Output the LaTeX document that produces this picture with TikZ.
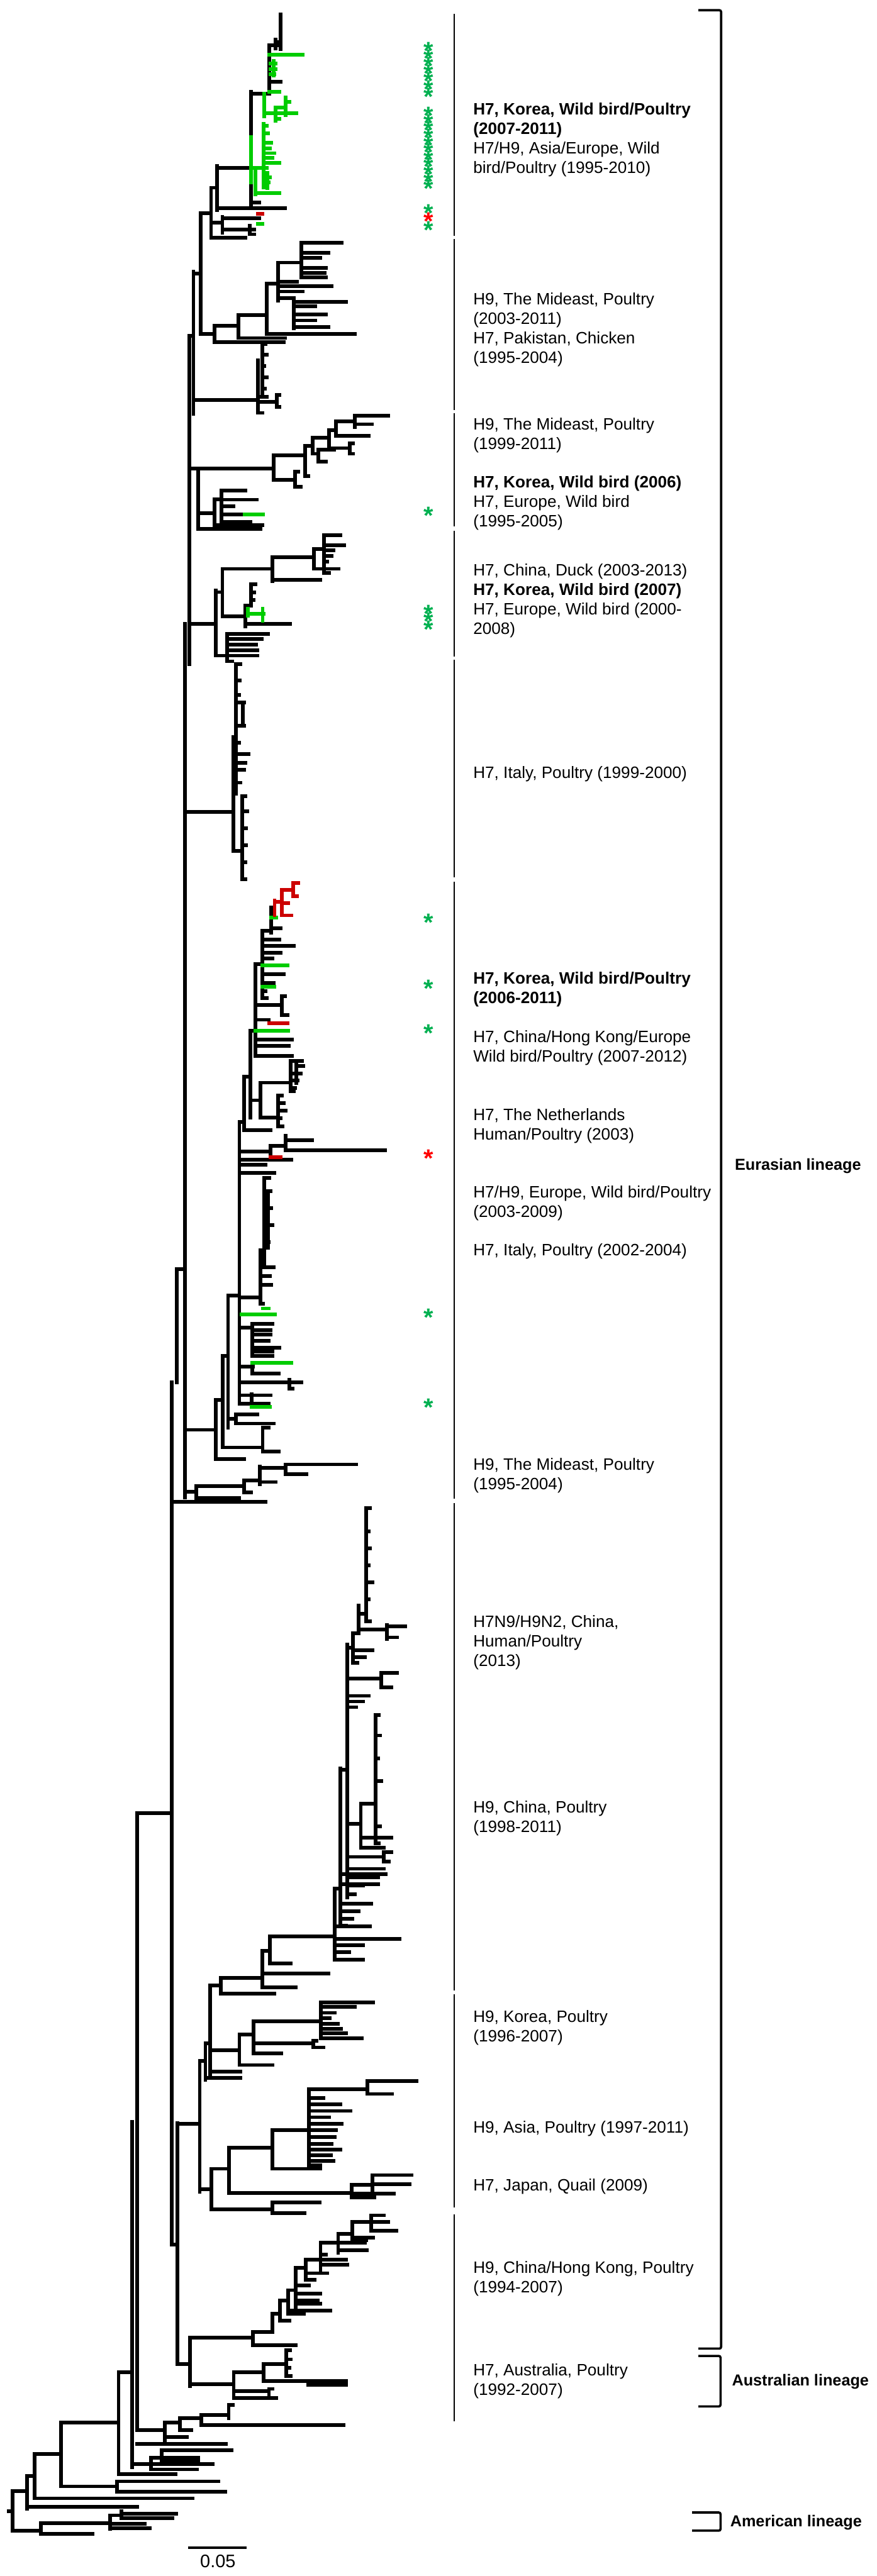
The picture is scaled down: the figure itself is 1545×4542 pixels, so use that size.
\documentclass[tikz,border=0pt]{standalone}
\usepackage{fontspec}
\setmainfont{Liberation Sans}
\definecolor{brgreen}{RGB}{0,204,0}
\definecolor{brred}{RGB}{204,0,0}
\definecolor{astgreen}{RGB}{0,176,80}
\definecolor{astred}{RGB}{255,0,0}
\begin{document}
\begin{tikzpicture}[x=1pt, y=-1pt, line cap=rect,
  br/.style={line width=6.5pt, black},
  brG/.style={line width=6.5pt, brgreen},
  brR/.style={line width=6.5pt, brred},
  sep/.style={line width=2.5pt},
  brk/.style={line width=4pt, rounded corners=3pt, line cap=butt},
  lbl/.style={font=\fontsize{29}{34.5}\selectfont, anchor=north west, inner sep=0pt, align=left},
  lin/.style={font=\fontsize{28}{34}\selectfont\bfseries, anchor=west, inner sep=0pt},
  ast/.style={font=\fontsize{44}{44}\selectfont\bfseries, text height=31.7pt, text depth=-17.2pt, inner sep=0pt, text=astgreen},
  astR/.style={ast, text=astred},
  stack/.style={font=\fontsize{44}{44}\selectfont\bfseries, anchor=north, inner sep=0pt, text=astgreen}]
\useasboundingbox (0,0) rectangle (1545,4542);
% top clade: H7 Korea 2007-2011
\foreach \x/\a/\b in {495/25/87, 486/70/86, 475/85/163, 442/162/362, 383/293/370}
  \draw[br] (\x,\a) -- (\x,\b);
\foreach \y/\a/\b in {74/486/495, 80/475/495, 144/475/495, 165/442/475, 296/383/442, 357/442/457, 367/383/502}
  \draw[br] (\a,\y) -- (\b,\y);
\foreach \x/\a/\b in {442/242/322, 466/165/205, 486/190/213, 503/172/203, 465/218/330, 450/296/343, 471/305/332, 482/107/133}
  \draw[brG] (\x,\a) -- (\x,\b);
\foreach \y/\a/\b in {96/475/533, 112/477/486, 122/477/486, 131/477/484, 162/475/492, 180/503/510, 190/486/503, 200/466/522, 210/486/492, 222/465/470, 235/465/472, 252/465/478, 262/465/476, 270/465/483, 278/465/480, 287/465/492, 296/442/470, 313/471/476, 322/471/474, 340/450/492}
  \draw[brG] (\a,\y) -- (\b,\y);
% small clade below it
\foreach \x/\a/\b in {372/331/419, 392/382/410, 440/398/413, 354/376/589}
  \draw[br] (\x,\a) -- (\x,\b);
\foreach \y/\a/\b in {331/372/383, 393/372/392, 385/392/457, 405/392/448, 413/440/448, 419/372/433, 376/354/372, 482/341/354}
  \draw[br] (\a,\y) -- (\b,\y);
\draw[brR] (455,377) -- (462,377);
\draw[brG] (455,395) -- (463,395);
% H9 Mideast 2003-2011
\foreach \x/\a/\b in {378/574/603, 420/556/596, 470/500/589, 490/463/530, 531/428/489, 518/526/579}
  \draw[br] (\x,\a) -- (\x,\b);
\foreach \y/\a/\b in {589/354/378, 574/378/420, 603/378/500, 556/420/470, 596/420/502, 500/470/490, 589/470/625, 463/490/531, 497/490/523, 505/490/584, 514/490/533, 526/490/518, 428/531/602, 446/531/579, 455/531/564, 472/531/574, 481/531/572, 489/531/574, 532/518/610, 540/518/556, 554/518/574, 565/518/556, 577/518/579}
  \draw[br] (\a,\y) -- (\b,\y);
% H7 Pakistan column
\foreach \x/\a/\b in {455/635/728, 462/607/700, 488/696/717}
  \draw[br] (\x,\a) -- (\x,\b);
\foreach \y/\a/\b in {705/341/455, 607/462/468, 625/462/470, 645/462/466, 665/462/470, 685/462/467, 700/455/470, 709/455/488, 696/488/492, 717/488/492, 728/455/462}
  \draw[br] (\a,\y) -- (\b,\y);
% backbone
\foreach \x/\a/\b in {341/479/730, 334/592/1171, 326/1100/2640, 312/2238/2437, 303/2437/3958, 313/3744/4168, 242/3197/4285, 233/3741/4350}
  \draw[br] (\x,\a) -- (\x,\b);
\foreach \y/\a/\b in {592/334/341, 2238/312/326, 3197/242/303, 3958/303/313}
  \draw[br] (\a,\y) -- (\b,\y);
% H9 Mideast 1999-2011
\foreach \x/\a/\b in {482/803/846, 520/832/858, 538/786/839, 551/772/800, 561/793/814, 580/758/790, 617/782/800, 592/743/768, 625/733/753}
  \draw[br] (\x,\a) -- (\x,\b);
\foreach \y/\a/\b in {826/334/482, 803/482/538, 846/482/520, 832/520/526, 858/520/530, 786/538/551, 839/538/543, 772/551/580, 800/551/561, 793/561/589, 814/561/575, 758/580/592, 790/580/617, 782/617/622, 800/617/622, 743/592/625, 768/592/650, 733/625/684, 748/625/655}
  \draw[br] (\a,\y) -- (\b,\y);
% H7 Korea 2006
\foreach \x/\a/\b in {349/826/933, 378/880/926, 390/865/920}
  \draw[br] (\x,\a) -- (\x,\b);
\foreach \y/\a/\b in {905/349/378, 933/349/459, 880/378/390, 926/378/463, 865/390/433, 881/390/453, 893/390/412, 920/390/441, 907/390/431}
  \draw[br] (\a,\y) -- (\b,\y);
\draw[brG] (431,907) -- (464,907);
% H7 China duck, Korea 2007
\foreach \x/\a/\b in {380/1041/1156, 392/1003/1087, 480/982/1025, 553/968/1003, 571/944/1010, 432/1068/1104, 442/1030/1068, 400/1118/1166}
  \draw[br] (\x,\a) -- (\x,\b);
\foreach \y/\a/\b in {1100/334/380, 1044/380/392, 1003/392/480, 982/480/553, 1022/480/565, 968/553/571, 944/571/600, 961/571/607, 970/571/588, 980/571/585, 990/571/577, 1003/553/597, 1010/571/580, 1087/392/432, 1100/432/511, 1030/442/450, 1045/442/448, 1058/442/447, 1068/432/442, 1156/380/400, 1118/400/473, 1127/400/461, 1137/400/451, 1147/400/454, 1156/400/454, 1166/400/409}
  \draw[br] (\a,\y) -- (\b,\y);
\foreach \x/\a/\b in {437/1073/1086, 463/1073/1095}
  \draw[brG] (\x,\a) -- (\x,\b);
\draw[brG] (437,1082) -- (465,1082);
% H7 Italy 1999-2000
\foreach \x/\a/\b in {411/1300/1500, 416/1171/1400, 428/1239/1280, 427/1404/1550}
  \draw[br] (\x,\a) -- (\x,\b);
\foreach \y/\a/\b in {1432/326/411, 1300/411/416, 1500/411/427, 1171/416/424, 1200/416/423, 1225/416/422, 1239/416/430, 1280/416/430, 1310/416/422, 1330/416/438, 1345/416/432, 1357/416/430, 1380/416/424, 1404/427/432, 1430/427/436, 1460/427/434, 1490/427/434, 1520/427/432, 1550/427/432}
  \draw[br] (\a,\y) -- (\b,\y);
% H7 Korea 2006-2011 and relatives
\foreach \x/\a/\b in {380/2468/2573, 393/2391/2552, 463/2517/2559, 416/2494/2510, 402/2284/2517, 422/1978/2475, 430/1898/1986, 441/1817/1970, 450/1700/1862, 497/1756/1790, 462/1641/1760, 478/1600/1645, 459/1909/1970, 512/1871/1924, 522/1875/1910, 490/1932/1986}
  \draw[br] (\x,\a) -- (\x,\b);
\foreach \y/\a/\b in {2521/326/380, 2468/380/393, 2573/380/430, 2391/393/402, 2552/393/463, 2517/463/474, 2559/463/491, 2502/402/416, 2494/416/454, 2510/416/482, 2284/402/422, 1978/422/430, 1993/430/477, 1898/430/441, 1940/441/459, 1909/459/512, 1871/512/532, 1880/522/535, 1893/512/530, 1905/512/525, 1918/512/520, 1924/512/518, 1970/459/490, 1932/490/497, 1945/490/500, 1958/490/503, 1972/490/495, 1986/490/498, 1817/441/450, 1833/450/515, 1844/450/509, 1862/450/515, 1772/450/497, 1756/497/502, 1790/497/507, 1798/450/474, 1700/450/462, 1657/462/492, 1668/462/518, 1680/462/495, 1690/462/480, 1718/462/500, 1733/462/482, 1748/462/468, 1760/462/470, 1641/462/478, 1637/478/495, 1607/478/484}
  \draw[br] (\a,\y) -- (\b,\y);
\foreach \y/\a/\b in {1804/474/507}
  \draw[brR] (\a,\y) -- (\b,\y);
\foreach \y/\a/\b in {1817/450/508, 1702/462/507, 1740/462/484, 1618/478/487}
  \draw[brG] (\a,\y) -- (\b,\y);
\foreach \x/\a/\b in {484/1588/1614, 497/1569/1614, 517/1557/1580}
  \draw[brR] (\x,\a) -- (\x,\b);
\foreach \y/\a/\b in {1590/484/497, 1569/497/517, 1557/517/526, 1580/517/524, 1592/497/508, 1614/497/513}
  \draw[brR] (\a,\y) -- (\b,\y);
% H7 Netherlands, Europe
\foreach \x/\a/\b in {477/2020/2040, 503/2002/2028}
  \draw[br] (\x,\a) -- (\x,\b);
\foreach \y/\a/\b in {2030/422/477, 2020/477/503, 2010/503/550, 2028/503/679, 2045/422/514, 2054/422/468, 2068/422/484}
  \draw[br] (\a,\y) -- (\b,\y);
\draw[brR] (477,2040) -- (495,2040);
% H7 Italy 2002-2004
\foreach \x/\a/\b in {459/2204/2299, 466/2077/2230, 472/2100/2200, 445/2334/2391, 445/2403/2422, 510/2433/2448, 444/2458/2475}
  \draw[br] (\x,\a) -- (\x,\b);
\foreach \y/\a/\b in {2288/422/459, 2077/466/475, 2100/466/477, 2130/472/478, 2160/472/480, 2190/466/474, 2204/459/466, 2234/459/482, 2250/459/476, 2265/459/478, 2299/459/464, 2334/445/480, 2341/422/445, 2345/445/477, 2353/445/477, 2364/445/474, 2376/445/492, 2383/445/480, 2391/445/480, 2410/422/446, 2422/445/491, 2437/422/531, 2448/510/516, 2460/422/477, 2475/422/474}
  \draw[br] (\a,\y) -- (\b,\y);
\foreach \y/\a/\b in {2318/426/485, 2307/463/474, 2403/445/514, 2481/444/476}
  \draw[brG] (\a,\y) -- (\b,\y);
% H9 Mideast 1995-2004
\foreach \x/\a/\b in {346/2620/2641, 430/2610/2631, 458/2586/2617, 503/2582/2599}
  \draw[br] (\x,\a) -- (\x,\b);
\foreach \y/\a/\b in {2630/326/346, 2620/346/430, 2610/430/458, 2588/458/503, 2582/503/628, 2599/503/540, 2613/458/486, 2631/430/443, 2641/346/421, 2648/303/468}
  \draw[br] (\a,\y) -- (\b,\y);
% H7N9/H9N2 and H9 China
\foreach \x/\a/\b in {370/3501/3657, 389/3487/3515, 462/3440/3504, 476/3414/3462, 590/3330/3455, 600/3118/3395, 612/2900/3345, 672/2950/2975, 636/3180/3258, 662/3024/3250, 676/3266/3282, 622/2880/2932, 632/2831/2880, 682/2865/2890, 645/2659/2859}
  \draw[br] (\x,\a) -- (\x,\b);
\foreach \y/\a/\b in {3501/370/389, 3487/389/462, 3515/389/484, 3440/462/476, 3480/462/579, 3504/462/521, 3414/476/590, 3462/476/512, 3396/590/652, 3419/590/704, 3430/590/640, 3442/590/616, 3455/590/640, 3330/590/600, 3304/600/680, 3322/600/666, 3357/600/654, 3370/600/632, 3383/600/621, 3395/600/610, 3120/600/612, 2905/612/622, 2960/612/672, 2950/672/700, 2975/672/690, 2990/612/650, 3000/612/640, 3010/612/628, 3216/612/636, 3180/636/662, 3240/636/690, 3258/636/677, 3274/612/676, 3266/676/690, 3282/676/685, 3295/612/677, 3310/612/666, 3325/612/640, 3340/612/625, 3024/662/668, 3060/662/670, 3100/662/666, 3140/662/672, 3220/662/670, 3250/662/668, 2910/622/657, 2922/622/643, 2932/622/630, 2880/622/632, 2873/632/682, 2868/682/714, 2887/682/700, 2845/632/645, 2659/645/652, 2700/645/650, 2730/645/652, 2760/645/650, 2790/645/656, 2820/645/650, 2859/645/652}
  \draw[br] (\a,\y) -- (\b,\y);
% H9 Korea
\foreach \x/\a/\b in {422/3587/3641, 447/3564/3620, 566/3531/3594, 552/3598/3610, 362/3603/3667, 352/3634/3864}
  \draw[br] (\x,\a) -- (\x,\b);
\foreach \y/\a/\b in {3615/370/422, 3587/422/447, 3564/447/566, 3531/566/658, 3538/566/626, 3549/566/590, 3558/566/581, 3568/566/596, 3577/566/601, 3585/566/610, 3594/566/638, 3603/447/552, 3598/552/558, 3610/552/570, 3620/447/496, 3641/422/480, 3653/370/424, 3603/362/370, 3664/362/424, 3634/352/362, 3745/313/352}
  \draw[br] (\a,\y) -- (\b,\y);
% H9 Asia, H7 Japan
\foreach \x/\a/\b in {373/3824/3895, 404/3787/3867, 480/3756/3824, 544/3684/3818, 648/3669/3692, 620/3852/3874, 656/3839/3868, 480/3883/3902}
  \draw[br] (\x,\a) -- (\x,\b);
\foreach \y/\a/\b in {3860/352/373, 3824/373/404, 3787/404/480, 3756/480/544, 3684/544/648, 3669/648/734, 3692/648/691, 3699/544/570, 3710/544/600, 3722/544/618, 3733/544/580, 3745/544/602, 3756/544/592, 3768/544/590, 3780/544/585, 3790/544/600, 3800/544/583, 3810/544/588, 3818/544/565, 3824/480/565, 3867/404/620, 3852/620/656, 3835/656/725, 3851/656/722, 3868/620/694, 3874/620/660, 3895/373/480, 3883/480/563, 3902/480/537}
  \draw[br] (\a,\y) -- (\b,\y);
% H9 China/Hong Kong
\foreach \x/\a/\b in {335/4122/4207, 446/4112/4135, 480/4080/4112, 493/4056/4092, 508/4038/4080, 521/3999/4068, 539/3984/4020, 565/3954/4002, 596/3939/3972, 621/3918/3950, 654/3906/3933}
  \draw[br] (\x,\a) -- (\x,\b);
\foreach \y/\a/\b in {4168/313/335, 4122/335/446, 4135/446/521, 4112/446/480, 4080/480/493, 4056/493/508, 4092/493/510, 4038/508/521, 4074/508/582, 4080/508/536, 3999/521/539, 4044/521/564, 4056/521/560, 4062/521/564, 4030/521/545, 3984/539/565, 4020/539/554, 4008/539/577, 3954/565/596, 3993/565/612, 3984/565/610, 3975/565/574, 3939/596/621, 3968/596/647, 3954/596/643, 3918/621/654, 3945/621/658, 3950/621/645, 3906/654/676, 3918/654/684, 3933/654/699}
  \draw[br] (\a,\y) -- (\b,\y);
% H7 Australia
\foreach \x/\a/\b in {412/4183/4228, 465/4168/4198, 505/4144/4189, 474/4212/4228}
  \draw[br] (\x,\a) -- (\x,\b);
\foreach \y/\a/\b in {4204/335/412, 4183/412/465, 4168/465/505, 4144/505/511, 4160/505/512, 4175/505/510, 4189/505/512, 4198/465/610, 4205/543/610, 4216/412/474, 4228/412/487, 4212/474/480}
  \draw[br] (\a,\y) -- (\b,\y);
% basal branches
\foreach \x/\a/\b in {291/4271/4309, 317/4264/4285, 355/4258/4276, 403/4240/4264, 266/4333/4354, 285/4320/4340, 209/4183/4362, 108/4271/4384, 206/4375/4393, 61/4327/4405, 48/4366/4423, 22/4392/4462, 72/4449/4468, 194/4435/4459, 214/4428/4440}
  \draw[br] (\x,\a) -- (\x,\b);
\foreach \y/\a/\b in {4285/242/291, 4271/291/317, 4264/317/355, 4258/355/403, 4240/403/410, 4276/355/605, 4285/317/337, 4297/291/329, 4309/242/398, 4345/233/266, 4333/266/349, 4338/285/349, 4320/285/408, 4345/266/375, 4354/266/347, 4183/209/233, 4362/209/309, 4271/108/209, 4384/108/206, 4375/206/385, 4393/206/397, 4327/61/108, 4405/61/339, 4366/48/61, 4420/48/242, 4392/22/48, 4462/22/72, 4428/15/22, 4449/72/194, 4468/72/163, 4435/194/214, 4432/214/311, 4440/214/304, 4450/194/255, 4458/194/264}
  \draw[br] (\a,\y) -- (\b,\y);
% scale bar
\draw[line width=4pt, line cap=butt] (332,4492) -- (435,4492);
\node[font=\fontsize{32}{32}\selectfont, inner sep=0pt] (scale) at (384,4516) {0.05};
% asterisks (stacks kept in one box each)
\node[stack] (astTop) at (755,73.8) {\vbox{\offinterlineskip\hbox{*}\kern-16.7pt\hbox{*}\kern-16.7pt\hbox{*}\kern-16.7pt\hbox{*}\kern-16.7pt\hbox{*}\kern-16.7pt\hbox{*}\kern-16.7pt\hbox{*}}};
\node[stack] (astMid) at (755,188.8) {\vbox{\offinterlineskip\hbox{*}\kern-17.4pt\hbox{*}\kern-17.4pt\hbox{*}\kern-17.4pt\hbox{*}\kern-17.4pt\hbox{*}\kern-17.4pt\hbox{*}\kern-17.4pt\hbox{*}\kern-17.4pt\hbox{*}\kern-17.4pt\hbox{*}\kern-17.4pt\hbox{*}\kern-17.4pt\hbox{*}}};
\node[stack] (astLow) at (755,360.8) {\vbox{\offinterlineskip\hbox{*}\kern-15.7pt\hbox{\textcolor{astred}{*}}\kern-15.7pt\hbox{*}}};
\node[stack] (astDuck) at (755,1066.8) {\vbox{\offinterlineskip\hbox{*}\kern-16.7pt\hbox{*}\kern-16.7pt\hbox{*}}};
\foreach \y [count=\i] in {908,1626,1742,1821,2322,2481}
  \node[ast] (astG\i) at (755,\y) {*};
\node[astR] (astNL) at (755,2042) {*};
% clade separators
\foreach \a/\b in {26/415, 423/722, 730/927, 937/1156, 1165/1546, 1556/2641, 2652/3508, 3517/3891, 3906/4268}
  \draw[sep] (801,\a) -- (801,\b);
% clade labels
\node[lbl] (koreaA) at (834,181) {\textbf{H7, Korea, Wild bird/Poultry}\\\textbf{(2007-2011)}\\H7/H9, Asia/Europe, Wild\\bird/Poultry (1995-2010)};
\node[lbl] (mideastA) at (834,516) {H9, The Mideast, Poultry\\(2003-2011)\\H7, Pakistan, Chicken\\(1995-2004)};
\node[lbl] (mideastB) at (834,737) {H9, The Mideast, Poultry\\(1999-2011)};
\node[lbl] (koreaB) at (834,839) {\textbf{H7, Korea, Wild bird (2006)}\\H7, Europe, Wild bird\\(1995-2005)};
\node[lbl] (koreaC) at (834,994) {H7, China, Duck (2003-2013)\\\textbf{H7, Korea, Wild bird (2007)}\\H7, Europe, Wild bird (2000-\\2008)};
\node[lbl] (italyA) at (834,1351) {H7, Italy, Poultry (1999-2000)};
\node[lbl] (koreaD) at (834,1714) {\textbf{H7, Korea, Wild bird/Poultry}\\\textbf{(2006-2011)}};
\node[lbl] (chinaA) at (834,1817) {H7, China/Hong Kong/Europe\\Wild bird/Poultry (2007-2012)};
\node[lbl] (dutch) at (834,1954) {H7, The Netherlands\\Human/Poultry (2003)};
\node[lbl] (europe) at (834,2091) {H7/H9, Europe, Wild bird/Poultry\\(2003-2009)};
\node[lbl] (italyB) at (834,2193) {H7, Italy, Poultry (2002-2004)};
\node[lbl] (mideastC) at (834,2571) {H9, The Mideast, Poultry\\(1995-2004)};
\node[lbl] (hsevenn) at (834,2848) {H7N9/H9N2, China,\\Human/Poultry\\(2013)};
\node[lbl] (chinaB) at (834,3175) {H9, China, Poultry\\(1998-2011)};
\node[lbl] (koreaE) at (834,3544) {H9, Korea, Poultry\\(1996-2007)};
\node[lbl] (asia) at (834,3740) {H9, Asia, Poultry (1997-2011)};
\node[lbl] (japan) at (834,3842) {H7, Japan, Quail (2009)};
\node[lbl] (hongkong) at (834,3987) {H9, China/Hong Kong, Poultry\\(1994-2007)};
\node[lbl] (austr) at (834,4167) {H7, Australia, Poultry\\(1992-2007)};
% lineage brackets
\draw[brk] (1231,18) -- (1271,18) -- (1271,4141) -- (1231,4141);
\draw[brk] (1231,4154) -- (1270,4154) -- (1270,4243) -- (1231,4243);
\draw[brk] (1220,4430) -- (1270,4430) -- (1270,4462) -- (1220,4462);
\node[lin] (eurasian) at (1295,2056) {Eurasian lineage};
\node[lin] (australian) at (1290,4199) {Australian lineage};
\node[lin] (american) at (1287,4448) {American lineage};
\end{tikzpicture}
\end{document}
